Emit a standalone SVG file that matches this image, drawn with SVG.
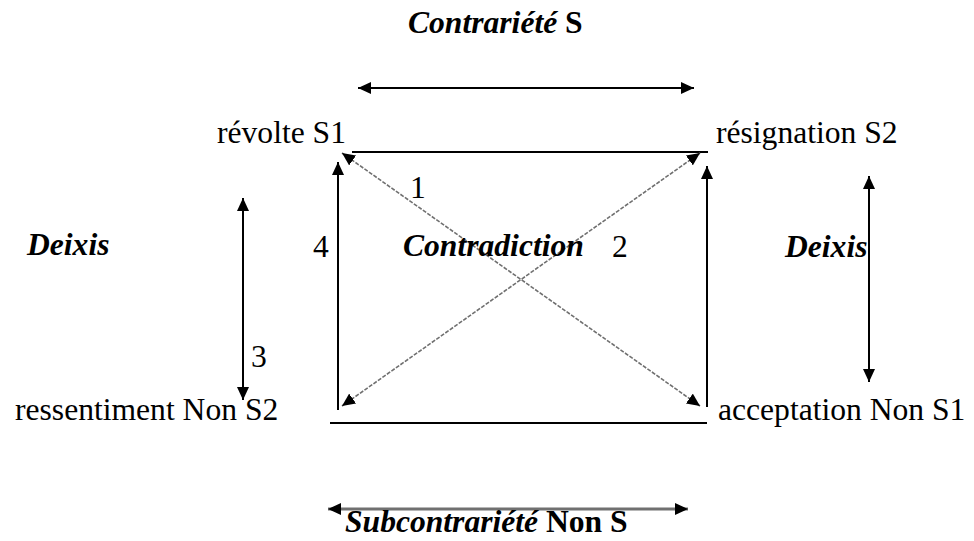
<svg xmlns="http://www.w3.org/2000/svg" width="974" height="541" viewBox="0 0 974 541">
  <style>
    .lbl { font-family: "Liberation Serif", "Times New Roman", serif; font-size: 31.6px; fill: #000; }
    .bi { font-weight: bold; font-style: italic; }
    .b { font-weight: bold; }
    .solid { stroke: #000; stroke-width: 2; fill: none; }
    .diag { stroke: #707070; stroke-width: 1.6; stroke-dasharray: 4 1.5; fill: none; }
    .wide { stroke: #707070; stroke-width: 3; fill: none; }
  </style>
  <defs>
    <marker id="head" viewBox="0 0 13 12" refX="13" refY="6" markerWidth="13" markerHeight="12" markerUnits="userSpaceOnUse" orient="auto-start-reverse">
      <path d="M0,0 L13,6 L0,12 z" fill="#000"/>
    </marker>
  </defs>
  <rect width="974" height="541" fill="#fff"/>

  <g id="connectors">
    <!-- contrariety arrow above the square -->
    <line class="solid" x1="358" y1="88" x2="694" y2="88" marker-start="url(#head)" marker-end="url(#head)"/>
    <!-- top side of the square -->
    <line class="solid" x1="352" y1="152" x2="708" y2="152"/>
    <!-- bottom side -->
    <line class="solid" x1="330" y1="423" x2="707" y2="423"/>
    <!-- left and right sides, pointing up -->
    <line class="solid" x1="338" y1="410" x2="338" y2="162" marker-end="url(#head)"/>
    <line class="solid" x1="707" y1="407" x2="707" y2="166" marker-end="url(#head)"/>
    <!-- contradiction diagonals -->
    <line class="diag" x1="342" y1="153" x2="700" y2="406" marker-start="url(#head)" marker-end="url(#head)"/>
    <line class="diag" x1="342" y1="406" x2="700" y2="153" marker-start="url(#head)" marker-end="url(#head)"/>
    <!-- deixis arrows -->
    <line class="solid" x1="243" y1="198" x2="243" y2="400" marker-start="url(#head)" marker-end="url(#head)"/>
    <line class="solid" x1="869" y1="176" x2="869" y2="382" marker-start="url(#head)" marker-end="url(#head)"/>
    <!-- subcontrariety arrow below the square -->
    <line class="wide" x1="328" y1="509" x2="688" y2="509" marker-start="url(#head)" marker-end="url(#head)"/>
  </g>

  <g id="title-contrariete">
    <text class="lbl" x="408" y="33"><tspan class="bi">Contrariété</tspan><tspan class="b"> S</tspan></text>
  </g>
  <g id="node-revolte">
    <text class="lbl" x="217" y="143">révolte S1</text>
  </g>
  <g id="node-resignation">
    <text class="lbl" x="716" y="143">résignation S2</text>
  </g>
  <g id="node-ressentiment">
    <text class="lbl" x="15" y="420">ressentiment Non S2</text>
  </g>
  <g id="node-acceptation">
    <text class="lbl" x="718" y="420">acceptation Non S1</text>
  </g>
  <g id="label-deixis-left">
    <text class="lbl bi" x="27" y="255">Deixis</text>
  </g>
  <g id="label-deixis-right">
    <text class="lbl bi" x="785" y="257">Deixis</text>
  </g>
  <g id="label-contradiction">
    <text class="lbl bi" x="403" y="256">Contradiction</text>
  </g>
  <g id="label-subcontrariete">
    <text class="lbl" x="345" y="532"><tspan class="bi">Subcontrariété</tspan><tspan class="b"> Non S</tspan></text>
  </g>
  <g id="numbers">
    <text class="lbl" x="410" y="198">1</text>
    <text class="lbl" x="612" y="257">2</text>
    <text class="lbl" x="251" y="367">3</text>
    <text class="lbl" x="313" y="257">4</text>
  </g>
</svg>
